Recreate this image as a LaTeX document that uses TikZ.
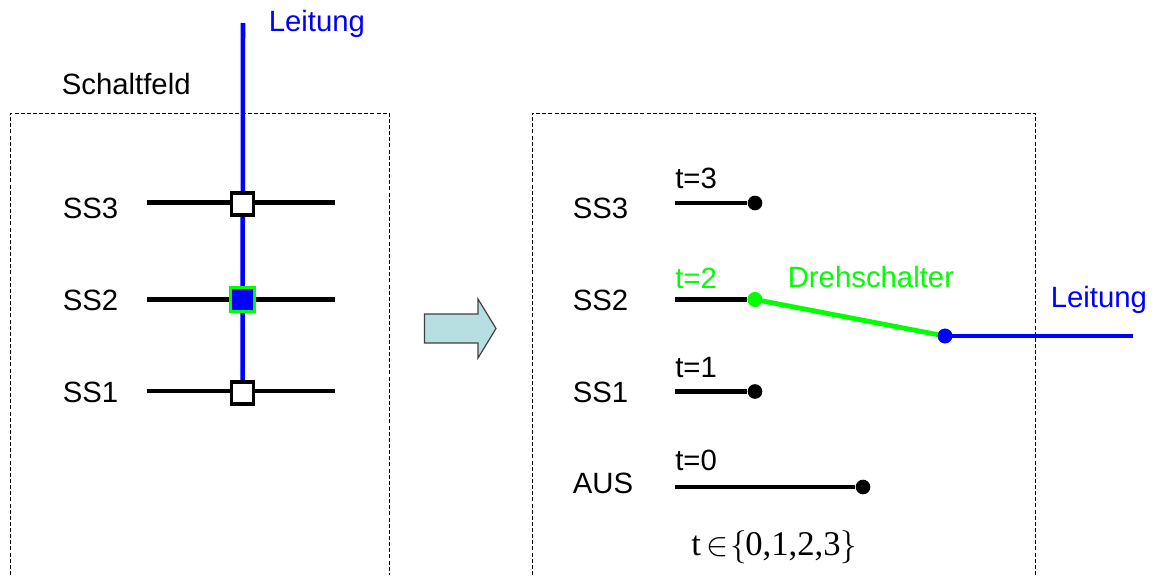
\documentclass[tikz,border=0pt]{standalone}
\usepackage{fontspec}
\setmainfont{Liberation Sans}
\newfontfamily\timesf{Liberation Serif}
\definecolor{myblue}{RGB}{0,0,255}
\definecolor{mygreen}{RGB}{0,255,0}
\definecolor{arrowfill}{RGB}{183,222,224}
\tikzset{
  lab/.style={font=\fontsize{22}{24}\selectfont, inner sep=0pt, text=black},
  bluelab/.style={lab, text=myblue},
  greenlab/.style={lab, text=mygreen},
  tlab/.style={font=\fontsize{22}{24}\selectfont, inner sep=0pt, text=black},
  framebox/.style={draw=black, line width=0.75pt, dash pattern=on 3pt off 1.6pt},
  bar/.style={draw=black, line width=3.4pt},
  bluebar/.style={draw=myblue, line width=3.4pt},
  greenbar/.style={draw=mygreen, line width=3.6pt},
  sq/.style={draw=black, fill=white, line width=2.3pt, minimum size=16.5pt, inner sep=0pt},
  sqon/.style={draw=mygreen, fill=myblue, line width=2.3pt, minimum size=18pt, inner sep=0pt},
  dot/.style={circle, fill=black, minimum size=11pt, inner sep=0pt},
  dotb/.style={circle, fill=myblue, minimum size=11pt, inner sep=0pt},
  dotg/.style={circle, fill=mygreen, minimum size=11pt, inner sep=0pt},
}
\begin{document}
\begin{tikzpicture}[x=0.75pt,y=-0.75pt]
\useasboundingbox (0,0) rectangle (1155,575);
% frames (open at the bottom)
\draw[framebox] (10.5,575) -- (10.5,113) -- (389,113) -- (389,575);
\draw[framebox] (532,575) -- (532,113) -- (1035,113) -- (1035,575);
% left panel
\coordinate (ltop) at (243,23);
\coordinate (a3) at (146.5,202.5);
\coordinate (b3) at (334.5,202.5);
\coordinate (a2) at (146.5,299.5);
\coordinate (b2) at (334.5,299.5);
\coordinate (a1) at (146.5,391);
\coordinate (b1) at (334.5,391);
\draw[bar] (a3) -- (b3);
\draw[bar] (a2) -- (b2);
\draw[bar] (a1) -- (b1);
\node[sq, draw=none, fill=none] (s1) at (242.5,393) {};
\draw[bluebar] (ltop) -- (s1.center);
\node[sq] (s3) at (242.5,204) {};
\node[sqon] (s2) at (242.5,299.5) {};
\node[sq] at (s1) {};
\node[bluelab, anchor=base west] (leitL) at (268.5,31) {Leitung};
\node[lab, anchor=base west] (feld) at (61.5,94) {Schaltfeld};
\node[lab, anchor=base west] (l3) at (62.5,218) {SS3};
\node[lab, anchor=base west] (l2) at (62.5,310) {SS2};
\node[lab, anchor=base west] (l1) at (62.5,402) {SS1};
% block arrow
\draw[fill=arrowfill, draw=black!75, line width=0.9pt, line join=miter]
  (424.5,314) -- (478,314) -- (478,299) -- (496,328.5) -- (478,358) -- (478,343) -- (424.5,343) -- cycle;
% right panel
\node[dot] (d3) at (755,203) {};
\node[dot] (d1) at (755,391.5) {};
\node[dot] (d0) at (863,487) {};
\coordinate (c3) at (675,203);
\coordinate (c2) at (675,299.5);
\coordinate (c1) at (675,391.5);
\coordinate (c0) at (675,487);
\coordinate (rend) at (1133,336);
\draw[bar] (c3) -- (d3);
\draw[bar] (c1) -- (d1);
\draw[bar] (c0) -- (d0);
\node[dotg] (d2) at (755,299.5) {};
\node[dotb] (db) at (945,336) {};
\draw[bar] (c2) -- (d2);
\draw[greenbar] (d2.center) -- (db.center);
\node[dotg] at (d2) {};
\node[dotb] at (db) {};
\draw[bluebar] (db.center) -- (rend);
\node[lab, anchor=base west] (r3) at (572.5,218) {SS3};
\node[lab, anchor=base west] (r2) at (572.5,310) {SS2};
\node[lab, anchor=base west] (r1) at (572.5,402) {SS1};
\node[lab, anchor=base west] (r0) at (572.5,493) {AUS};
\node[tlab, anchor=base west] (t3) at (675,188) {t=3};
\node[tlab, text=mygreen, anchor=base west] (t2) at (675,288) {t=2};
\node[tlab, anchor=base west] (t1) at (675,377) {t=1};
\node[tlab, anchor=base west] (t0) at (675,470) {t=0};
\node[greenlab, anchor=base west] (dreh) at (787.5,287) {Drehschalter};
\node[bluelab, anchor=base west] (leitR) at (1050.5,307) {Leitung};
\node[inner sep=0pt, anchor=base west, font=\fontsize{26}{28}\selectfont\timesf] (form) at (691,555)
  {t\,$\in$\kern1.5pt$\Bigl\{$\kern-1.5pt0,1,2,3\kern-0.5pt$\Bigr\}$};
\end{tikzpicture}
\end{document}
